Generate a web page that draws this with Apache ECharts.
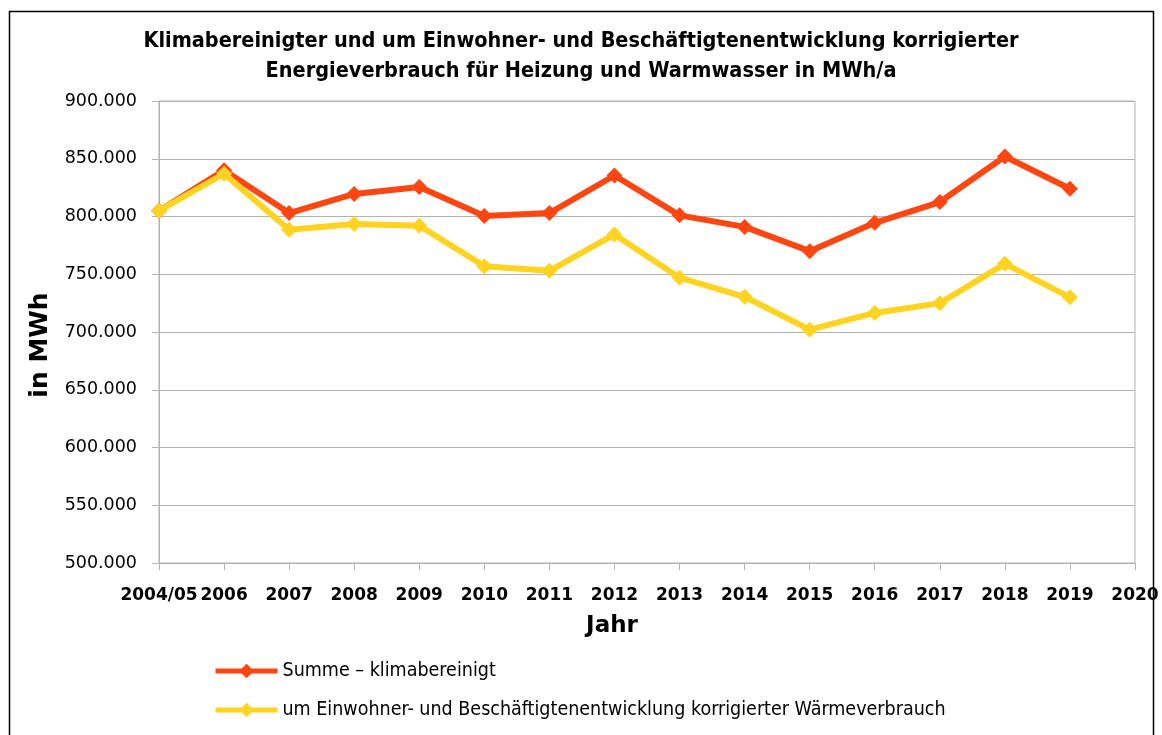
<!DOCTYPE html>
<html><head><meta charset="utf-8">
<script src="https://cdn.jsdelivr.net/npm/echarts@6/dist/echarts.min.js"></script>
<style>html,body{margin:0;padding:0;background:#fff}#c{width:1162px;height:735px}</style>
</head><body><div id="c"></div>
<script>
var categories = ['2004/05','2006','2007','2008','2009','2010','2011','2012','2013','2014','2015','2016','2017','2018','2019','2020'];
var summeKlima = [805000, 840000, 803000, 819500, 825500, 800500, 803000, 835500, 801000, 791000, 770000, 794500, 812500, 852000, 824000, null];
var korrigiert = [805000, 837000, 788500, 793500, 792000, 757000, 753000, 784500, 747000, 730500, 702000, 716500, 725000, 759000, 730000, null];
var seriesNames = ['Summe – klimabereinigt', 'um Einwohner- und Beschäftigtenentwicklung korrigierter Wärmeverbrauch'];
var titleText = 'Klimabereinigter und um Einwohner- und Beschäftigtenentwicklung korrigierter\nEnergieverbrauch für Heizung und Warmwasser in MWh/a';

var chart = echarts.init(document.getElementById('c'), null, {renderer:'canvas'});
function fmt(v){ return (v/1000) + '.000'; }
chart.setOption({
  animation:false,
  backgroundColor:'#fff',
  graphic:[{type:'rect', shape:{x:9.5,y:11.5,width:1144,height:740}, style:{fill:'none',stroke:'#000',lineWidth:1.5}, silent:true}],
  title:{text:titleText, left:'center', top:21,
    textStyle:{fontFamily:'DejaVu Sans Condensed', fontWeight:'bold', fontSize:21.5, lineHeight:30, color:'#000'}},
  grid:{left:159, right:27, top:101, bottom:172, show:true, borderColor:'#b3b3b3', borderWidth:1},
  legend:{orient:'vertical', left:208, top:656, itemGap:19, itemWidth:62, itemHeight:18,
    lineStyle:{width:5},
    textStyle:{fontFamily:'DejaVu Sans Condensed', fontSize:19.5, color:'#000'},
    data:seriesNames},
  xAxis:{type:'category', data:categories, boundaryGap:false,
    name:'Jahr', nameLocation:'middle', nameGap:52,
    nameTextStyle:{fontFamily:'DejaVu Sans', fontWeight:'bold', fontSize:23, color:'#000', padding:[0,70,0,0]},
    axisLine:{lineStyle:{color:'#b3b3b3'}}, axisTick:{show:true, length:7, lineStyle:{color:'#b3b3b3'}},
    axisLabel:{interval:0, margin:24, fontFamily:'DejaVu Sans', fontWeight:'bold', fontSize:17, color:'#000'},
    splitLine:{show:false}},
  yAxis:{type:'value', min:500000, max:900000, interval:50000,
    name:'in MWh', nameLocation:'middle', nameGap:106, nameRotate:90,
    nameTextStyle:{fontFamily:'DejaVu Sans', fontWeight:'bold', fontSize:25, color:'#000', padding:[0,26,0,0]},
    axisLine:{show:true, lineStyle:{color:'#b3b3b3'}}, axisTick:{show:true, length:7, lineStyle:{color:'#b3b3b3'}},
    axisLabel:{margin:22, fontFamily:'DejaVu Sans', fontSize:17.5, color:'#000', formatter:fmt},
    splitLine:{lineStyle:{color:'#b3b3b3'}}},
  series:[
    {name:seriesNames[0], type:'line', data:summeKlima, symbol:'diamond', symbolSize:16, showSymbol:true,
      lineStyle:{width:6, color:'#ff4611'}, itemStyle:{color:'#ff4611'}, z:2},
    {name:seriesNames[1], type:'line', data:korrigiert, symbol:'diamond', symbolSize:16, showSymbol:true,
      lineStyle:{width:6, color:'#ffd320'}, itemStyle:{color:'#ffd320'}, z:3}
  ]
});
</script></body></html>
